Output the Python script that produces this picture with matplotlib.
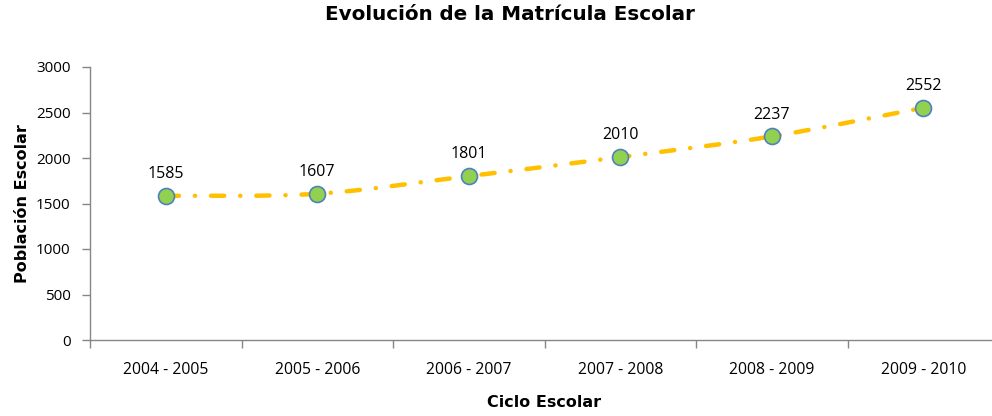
import matplotlib
matplotlib.use("Agg")
import matplotlib.pyplot as plt
from matplotlib.path import Path
from matplotlib.patches import PathPatch
import numpy as np

categories = ["2004 - 2005", "2005 - 2006", "2006 - 2007", "2007 - 2008", "2008 - 2009", "2009 - 2010"]
values = [1585, 1607, 1801, 2010, 2237, 2552]
yticks = [0, 500, 1000, 1500, 2000, 2500, 3000]

plt.rcParams['lines.scale_dashes'] = False
plt.rcParams['font.family'] = ['Open Sans', 'DejaVu Sans']

fig = plt.figure(figsize=(9.92, 4.16), dpi=100)
ax = fig.add_axes([90/992, (416-340)/416, 909/992, 273/416])

x = np.arange(len(values), dtype=float)
y = np.array(values, dtype=float)

# smoothed line (Catmull-Rom -> Bezier), like a spreadsheet "smoothed line"
verts = [(x[0], y[0])]
codes = [Path.MOVETO]
n = len(x)
for i in range(n - 1):
    p0 = np.array([x[max(i-1, 0)], y[max(i-1, 0)]])
    p1 = np.array([x[i], y[i]])
    p2 = np.array([x[i+1], y[i+1]])
    p3 = np.array([x[min(i+2, n-1)], y[min(i+2, n-1)]])
    c1 = p1 + (p2 - p0) / 6.0
    c2 = p2 - (p3 - p1) / 6.0
    verts += [tuple(c1), tuple(c2), tuple(p2)]
    codes += [Path.CURVE4] * 3
patch = PathPatch(Path(verts, codes), fill=False, edgecolor='#FFC000', linewidth=3.2,
                  linestyle=(0, (9.5, 11.5, 0.1, 11.5)), capstyle='round', zorder=2)
ax.add_patch(patch)

ax.plot(x, y, linestyle='none', marker='o', markersize=11.5, markerfacecolor='#92D050',
        markeredgecolor='#4F81BD', markeredgewidth=1.2, zorder=3)

for xi, yi in zip(x, values):
    ax.annotate(str(yi), (xi, yi), xytext=(0, 10), textcoords='offset points',
                ha='center', va='bottom', fontsize=11.5, color='#000000')

ax.set_xlim(-0.5, n - 0.5)
ax.set_ylim(0, 3000)
ax.set_yticks(yticks)
ax.set_yticklabels([str(t) for t in yticks], fontsize=11)
ax.set_xticks(x)
ax.set_xticklabels(categories, fontsize=11.3)
ax.set_xticks(np.arange(n + 1) - 0.5, minor=True)
ax.tick_params(axis='x', which='major', length=0, pad=16)
ax.tick_params(axis='x', which='minor', length=6, color='#868686', width=1, direction='out')
ax.tick_params(axis='y', which='major', length=6, color='#868686', width=1, direction='out', pad=8)

for s in ['top', 'right']:
    ax.spines[s].set_visible(False)
for s in ['left', 'bottom']:
    ax.spines[s].set_color('#868686')
    ax.spines[s].set_linewidth(1)

ax.set_xlabel('Ciclo Escolar', fontsize=11.5, fontweight='bold', family='DejaVu Sans', labelpad=12)
ax.set_ylabel('Población Escolar', fontsize=11.5, fontweight='bold', family='DejaVu Sans', labelpad=4)
fig.text(510/992, 1 - 15/416, 'Evolución de la Matrícula Escolar', ha='center', va='center',
         fontsize=14.3, fontweight='bold', family='DejaVu Sans')

fig.savefig('out.png', dpi=100)
